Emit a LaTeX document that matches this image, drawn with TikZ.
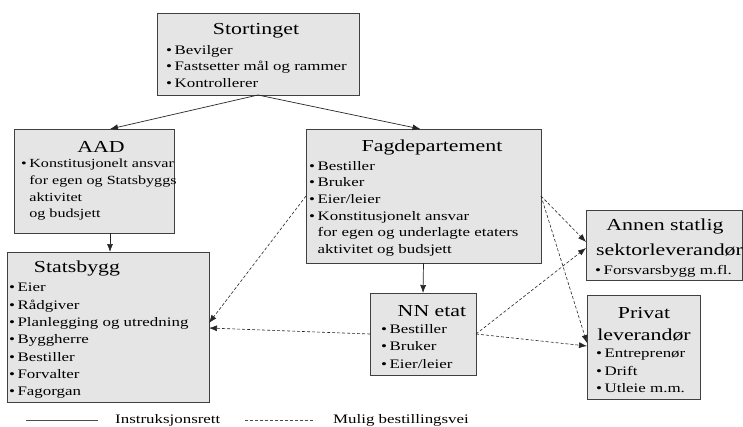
\documentclass[tikz,border=0pt]{standalone}
\usepackage{fontspec}
\setmainfont{Liberation Serif}[FakeStretch=1.3]
\usetikzlibrary{arrows.meta}
\begin{document}
\begin{tikzpicture}[x=1pt,y=-1pt,
  box/.style={draw=black!75,line width=1pt,fill=black!10,inner sep=0pt,outer sep=0pt,anchor=north west},
  ttl/.style={inner sep=0pt,font=\fontsize{16.8}{22}\selectfont,align=center},
  blist/.style={inner sep=0pt,anchor=north west,align=left,font=\fontsize{13}{17}\selectfont},
  solidarr/.style={draw=black!85,line width=0.7pt,-{Latex[length=8pt,width=6pt]}},
  dasharr/.style={draw=black!85,line width=0.6pt,dash pattern=on 3pt off 2pt,-{Latex[length=8pt,width=6pt]}},
  legline/.style={draw=black!70,line width=0.7pt},
  legtext/.style={inner sep=0pt,anchor=west,font=\fontsize{13}{15}\selectfont}]
\useasboundingbox[fill=white] (0,0) rectangle (743,426);
\newcommand{\bl}{\textbullet\hspace{2.5pt}}
\newcommand{\ind}{\hphantom{\textbullet}\hspace{2.5pt}}
% boxes
\node[box,minimum width=202pt,minimum height=82pt] (stort) at (157,13) {};
\node[box,minimum width=160pt,minimum height=104pt] (aad) at (14,129) {};
\node[box,minimum width=235pt,minimum height=134pt] (fag) at (306,129) {};
\node[box,minimum width=202pt,minimum height=150pt] (stats) at (7,252) {};
\node[box,minimum width=106pt,minimum height=82pt] (nn) at (370,293) {};
\node[box,minimum width=156pt,minimum height=70pt] (annen) at (586,210) {};
\node[box,minimum width=113pt,minimum height=104pt] (privat) at (587,295) {};
% titles
\node[ttl] (stortT) at (256,31) {Stortinget};
\node[ttl] (aadT) at (101,147) {AAD};
\node[ttl] (fagT) at (432,147) {Fagdepartement};
\node[ttl] (statsT) at (77,268) {Statsbygg};
\node[ttl] (nnT) at (432,311) {NN etat};
\node[ttl,font=\fontsize{16.8}{25}\selectfont] (annenT) at (665,238) {Annen statlig\\\hspace*{9pt}sektorleverandør};
\node[ttl] (privatT) at (644,324) {Privat\\leverandør};
% bullet lists
\node[blist,font=\fontsize{13}{16.5}\selectfont] (stortL) at (166,45) {\bl Bevilger\\\bl Fastsetter mål og rammer\\\bl Kontrollerer};
\node[blist,font=\fontsize{12.4}{16.7}\selectfont] (aadL) at (21,159) {\bl Konstitusjonelt ansvar\\\ind for egen og Statsbyggs\\\ind aktivitet\\\ind og budsjett};
\node[blist,font=\fontsize{13}{16.6}\selectfont] (fagL) at (309,161) {\bl Bestiller\\\bl Bruker\\\bl Eier/leier\\\bl Konstitusjonelt ansvar\\\ind for egen og underlagte etaters\\\ind aktivitet og budsjett};
\node[blist,font=\fontsize{13}{17.3}\selectfont] (statsL) at (9,283) {\bl Eier\\\bl Rådgiver\\\bl Planlegging og utredning\\\bl Byggherre\\\bl Bestiller\\\bl Forvalter\\\bl Fagorgan};
\node[blist,font=\fontsize{13}{17.5}\selectfont] (nnL) at (381,324) {\bl Bestiller\\\bl Bruker\\\bl Eier/leier};
\node[blist] (annenL) at (595,265) {\bl Forsvarsbygg m.fl.};
\node[blist,font=\fontsize{13}{17.5}\selectfont] (privatL) at (596,349) {\bl Entreprenør\\\bl Drift\\\bl Utleie m.m.};
% solid connectors
\draw[solidarr] (stort.south) -- ([xshift=16pt]aad.north);
\draw[solidarr] (stort.south) -- ([xshift=-3pt]fag.north);
\draw[solidarr] ([xshift=16pt]aad.south) -- ([xshift=2pt]stats.north);
\draw[solidarr] (fag.south) -- (nn.north);
% dashed connectors
\draw[dasharr] (fag.west) -- ([yshift=4pt]stats.east);
\draw[dasharr] (nn.west) -- ([yshift=-1pt]stats.east);
\draw[dasharr] (fag.east) -- ([yshift=3pt]annen.west);
\draw[dasharr] (nn.east) -- ([yshift=-3pt]annen.west);
\draw[dasharr] (fag.east) -- ([yshift=4pt]privat.west);
\draw[dasharr] (nn.east) -- ([yshift=1pt]privat.west);
% legend
\coordinate (l1a) at (26,420);
\coordinate (l1b) at (98,420);
\coordinate (l2a) at (245,420);
\coordinate (l2b) at (315,420);
\draw[legline] (l1a) -- (l1b);
\draw[legline,dash pattern=on 3pt off 2pt] (l2a) -- (l2b);
\node[legtext] (leg1) at (115,420) {Instruksjonsrett};
\node[legtext] (leg2) at (333,420) {Mulig bestillingsvei};
\end{tikzpicture}
\end{document}
